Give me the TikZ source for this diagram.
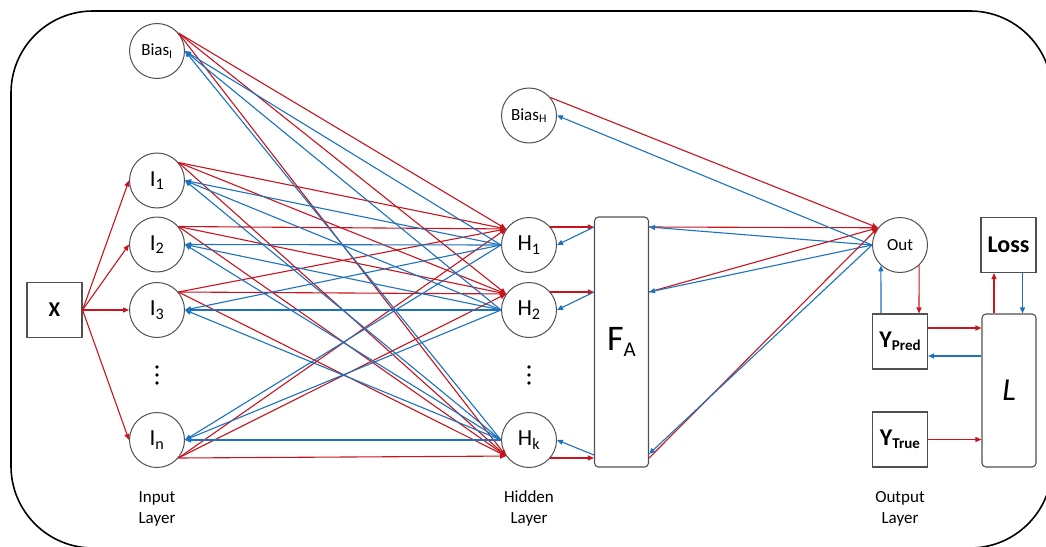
\documentclass[tikz,border=0pt]{standalone}
\usepackage{fontspec}
\setmainfont{Carlito}
\usetikzlibrary{arrows.meta,calc}
\definecolor{fwred}{RGB}{200,20,30}
\definecolor{bkblue}{RGB}{28,114,189}
\definecolor{edgegray}{RGB}{80,80,80}

\begin{document}
\begin{tikzpicture}[x=1pt,y=-1pt,
  neuron/.style={circle,draw=edgegray,line width=1pt,minimum size=55pt,inner sep=0pt,
    font=\fontsize{23}{25}\selectfont},
  smallneuron/.style={neuron,font=\fontsize{17}{19}\selectfont},
  databox/.style={rectangle,draw=edgegray,line width=1.1pt,minimum width=55pt,
    minimum height=55pt,inner sep=0pt,font=\bfseries\fontsize{24}{26}\selectfont},
  tallbox/.style={rectangle,rounded corners=4pt,draw=edgegray,line width=1.1pt,
    minimum width=54pt,inner sep=0pt},
  fw/.style={draw=fwred,line width=1.1pt,-{Triangle[length=6pt,width=5pt]}},
  bk/.style={draw=bkblue,line width=1.1pt,-{Triangle[length=6pt,width=5pt]}},
  layerlabel/.style={align=center,font=\fontsize{17}{21}\selectfont}
]
\useasboundingbox (0,0) rectangle (1046,546);

% outer frame, running past the page on the right and bottom
\begin{scope}
  \clip (0,0) rectangle (1046,546);
  \draw[line width=1.6pt, rounded corners=82pt] (11,11) rectangle (1052,548);
\end{scope}

% input side
\node[databox,font=\bfseries\fontsize{21}{23}\selectfont] (X) at (54.5,310) {X};
\node[smallneuron] (BI) at (157,51) {Bias\textsubscript{I}};
\node[neuron] (I1) at (157,180.5) {I\textsubscript{1}};
\node[neuron] (I2) at (157,244.5) {I\textsubscript{2}};
\node[neuron] (I3) at (157,310) {I\textsubscript{3}};
\node[neuron] (In) at (157,440) {I\textsubscript{n}};
\fill (157,367) circle (1.8) (157,375) circle (1.8) (157,383) circle (1.8);

% hidden side
\node[smallneuron] (BH) at (529,115.5) {Bias\textsubscript{H}};
\node[neuron] (H1) at (529,245) {H\textsubscript{1}};
\node[neuron] (H2) at (529,310) {H\textsubscript{2}};
\node[neuron] (Hk) at (529,440) {H\textsubscript{k}};
\fill (529,367) circle (1.8) (529,375) circle (1.8) (529,383) circle (1.8);
\node[tallbox,minimum height=250pt,font=\fontsize{36}{38}\selectfont] (FA) at (621.5,342)
  {F\raisebox{-6pt}{\fontsize{21}{21}\selectfont A}};

% output side
\node[smallneuron] (Out) at (900,245) {Out};
\node[databox] (Loss) at (1008.5,245) {Loss};
\node[databox] (YP) at (900,341.5) {Y\raisebox{-2.5pt}{\fontsize{15}{15}\selectfont Pred}};
\node[databox] (YT) at (900,439.5) {Y\raisebox{-2.5pt}{\fontsize{15}{15}\selectfont True}};
\node[tallbox,minimum height=153pt,font=\itshape\fontsize{32}{34}\selectfont] (L) at (1009,390.5) {L};

% layer captions
\node[layerlabel] (inlab) at (157,508.5) {Input\\Layer};
\node[layerlabel] (hidlab) at (529,508.5) {Hidden\\Layer};
\node[layerlabel] (outlab) at (900,508.5) {Output\\Layer};

% X feeds every input neuron
\foreach \t in {I1,I2,I3,In} \draw[fw] (X.east) -- (\t.west);

% forward pass: input layer -> hidden layer
\foreach \s/\a in {BI/40,I1/40,I2/40,I3/40,In/-40} {
  \draw[fw] (\s.\a) -- (H1.145);
  \draw[fw] (\s.\a) -- (H2.145);
  \draw[fw] (\s.\a) -- (Hk.-145);
}
% backward pass: hidden layer -> input layer
\foreach \s in {BI,I1,I2,I3,In} {
  \foreach \h in {H1,H2,Hk} \draw[bk] (\h.west) -- (\s.east);
}

% hidden neurons <-> activation
\foreach \h in {H1,H2} {
  \draw[fw] (\h.40) -- (\h.40 -| FA.west);
  \draw[bk] (\h.40 -| FA.west) -- (\h.east);
}
\draw[fw] (Hk.-40) -- (Hk.-40 -| FA.west);
\draw[bk] ([yshift=3pt]Hk.-40 -| FA.west) -- (Hk.east);

% activation <-> output neuron
\foreach \h in {H1,H2} {
  \draw[fw] (\h.40 -| FA.east) -- (Out.142);
  \draw[bk] (Out.west) -- (\h.40 -| FA.east);
}
\draw[fw] (Hk.-40 -| FA.east) -- (Out.142);
\draw[bk] (Out.west) -- ([yshift=4pt]Hk.-40 -| FA.east);

% hidden bias <-> output neuron
\draw[fw] (BH.40) -- (Out.142);
\draw[bk] (Out.west) -- (BH.east);

% output neuron <-> prediction
\draw[bk] ([xshift=-19pt]YP.north) -- (Out.-133);
\draw[fw] (Out.-47) -- ([xshift=19pt]YP.north);

% prediction and target <-> loss function
\draw[fw] ([yshift=13.5pt]YP.east) -- ([yshift=13.5pt]YP.east -| L.west);
\draw[bk] ([yshift=-14.5pt]YP.east -| L.west) -- ([yshift=-14.5pt]YP.east);
\draw[fw] (YT.east) -- (YT.east -| L.west);

% loss function <-> loss value
\draw[fw] ([xshift=-15pt]L.north) -- ([xshift=-15pt]L.north |- Loss.south);
\draw[bk] ([xshift=14pt]Loss.south) -- ([xshift=14pt]Loss.south |- L.north);
\end{tikzpicture}
\end{document}
